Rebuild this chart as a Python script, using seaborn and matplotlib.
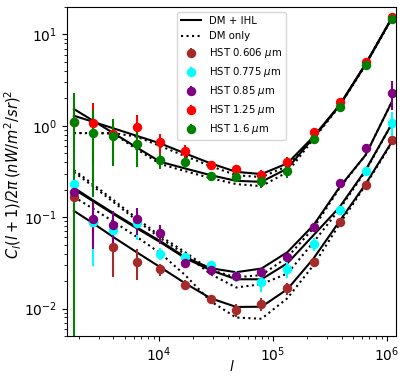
import matplotlib
matplotlib.use("Agg")
import matplotlib.pyplot as plt
import seaborn as sns

# multipole bins
ELL = [1800, 2640, 4000, 6370, 10300, 17000, 28400, 47600, 79400,
       134000, 227000, 384000, 649000, 1100000]

BANDS = ["0.606", "0.775", "0.85", "1.25", "1.6"]
BAND_COLORS = ["brown", "cyan", "purple", "red", "green"]

# measured HST fluctuations
D_606 = [0.167, 0.088, 0.0469, 0.0327, 0.0269, 0.0183, 0.0126, 0.0096, 0.0111,
         0.0166, 0.0324, 0.0889, 0.224, 0.697]
E_606 = [0.02, 0.03, 0.0246, 0.012, 0.004, 0.002, 0.0015, 0.0015, 0.0018,
         0.0025, 0.003, 0.006, 0.012, 0.04]
D_775 = [0.228, 0.0875, 0.0715, 0.086, 0.0396, 0.0367, 0.0298, 0.0226, 0.0193,
         0.0274, 0.0506, 0.119, 0.319, 1.08]
E_775 = [0.02, 0.058, 0.03, 0.03, 0.006, 0.004, 0.003, 0.003, 0.004,
         0.006, 0.008, 0.01, 0.02, 0.35]
D_85 = [0.187, 0.0951, 0.0817, 0.0951, 0.0663, 0.0311, 0.0263, 0.0228, 0.0252,
        0.0367, 0.0771, 0.234, 0.565, 2.28]
E_85 = [0.02, 0.05, 0.035, 0.032, 0.015, 0.003, 0.002, 0.002, 0.002,
        0.003, 0.005, 0.01, 0.03, 0.8]
D_125 = [1.10, 1.07, 0.811, 0.96, 0.658, 0.528, 0.371, 0.336, 0.286,
         0.40, 0.847, 1.80, 4.99, 15.6]
E_125 = [0.5, 0.70, 0.2, 0.35, 0.15, 0.085, 0.04, 0.03, 0.04,
         0.054, 0.06, 0.08, 0.2, 0.6]
D_16 = [1.10, 0.826, 0.777, 0.626, 0.418, 0.397, 0.283, 0.272, 0.248,
        0.321, 0.715, 1.61, 4.59, 14.9]
E_16 = [1.18, 0.66, 0.41, 0.27, 0.085, 0.05, 0.03, 0.03, 0.04,
        0.05, 0.05, 0.06, 0.15, 0.5]

# model curves: DM + IHL (M_) and DM only (N_)
M_606 = [0.1172, 0.0860, 0.0604, 0.0414, 0.0283, 0.0189, 0.01297, 0.01041, 0.01046,
         0.01627, 0.0353, 0.0904, 0.2299, 0.663]
N_606 = [0.1668, 0.1239, 0.0893, 0.0611, 0.0403, 0.0232, 0.01202, 0.00797, 0.00773,
         0.01297, 0.0298, 0.0838, 0.2241, 0.646]
M_775 = [0.2026, 0.1497, 0.1079, 0.0758, 0.0532, 0.0356, 0.0263, 0.0209, 0.0209,
         0.0313, 0.0635, 0.1287, 0.327, 1.044]
N_775 = [0.311, 0.2185, 0.146, 0.0927, 0.0589, 0.0393, 0.0238, 0.0170, 0.01846,
         0.0242, 0.0532, 0.1224, 0.319, 1.044]
M_85 = [0.2094, 0.1535, 0.1106, 0.0777, 0.0546, 0.0365, 0.0276, 0.02497, 0.0274,
        0.0414, 0.0817, 0.2131, 0.4776, 1.818]
N_85 = [0.327, 0.2298, 0.1535, 0.0975, 0.0619, 0.0414, 0.0263, 0.0220, 0.0232,
        0.0365, 0.0758, 0.2078, 0.4776, 1.818]
M_125 = [1.287, 1.106, 0.937, 0.777, 0.641, 0.498, 0.388, 0.313, 0.296,
         0.388, 0.761, 1.686, 4.74, 15.1]
N_125 = [0.832, 0.832, 0.832, 0.761, 0.599, 0.466, 0.362, 0.288, 0.274,
         0.362, 0.733, 1.686, 4.74, 14.9]
M_16 = [1.523, 1.140, 0.830, 0.581, 0.403, 0.341, 0.288, 0.2497, 0.2435,
        0.341, 0.743, 1.665, 4.68, 14.9]
N_16 = [0.832, 0.832, 0.821, 0.556, 0.381, 0.319, 0.2675, 0.2298, 0.2185,
        0.311, 0.715, 1.644, 4.62, 14.86]

DATA = [D_606, D_775, D_85, D_125, D_16]
ERRS = [E_606, E_775, E_85, E_125, E_16]
MODEL_IHL = [M_606, M_775, M_85, M_125, M_16]
MODEL_DM = [N_606, N_775, N_85, N_125, N_16]

fig = plt.figure(figsize=(4.07, 3.81), dpi=100)
ax = fig.add_axes([0.165, 0.118, 0.808, 0.864])
ax.set_xscale("log")
ax.set_yscale("log")

for i in range(len(BANDS)):
    sns.lineplot(x=ELL, y=MODEL_IHL[i], color="black", linewidth=1.5,
                 label="DM + IHL" if i == 0 else None, ax=ax)
for i in range(len(BANDS)):
    sns.lineplot(x=ELL, y=MODEL_DM[i], color="black", linewidth=1.5,
                 linestyle=":", label="DM only" if i == 0 else None, ax=ax)

for band, col, vals, errs in zip(BANDS, BAND_COLORS, DATA, ERRS):
    ax.errorbar(ELL, vals, yerr=errs, fmt="o", color=col, markersize=5.8,
                elinewidth=1.5, capsize=0, label=f"HST {band} $\\mu$m")

ax.set_xlim(1570, 1.2e6)
ax.set_ylim(0.005, 20)
ax.set_xlabel("$l$", fontsize=10)
ax.set_ylabel("$C_l(l+1)/2\\pi\\,(nW/m^2/sr)^2$", fontsize=10.5)
ax.xaxis.set_label_coords(0.5, -0.07)
ax.yaxis.set_label_coords(-0.13, 0.49)
ax.tick_params(labelsize=10)
ax.legend(loc="upper center", fontsize=7.3)

fig.savefig("out.png", dpi=100)
